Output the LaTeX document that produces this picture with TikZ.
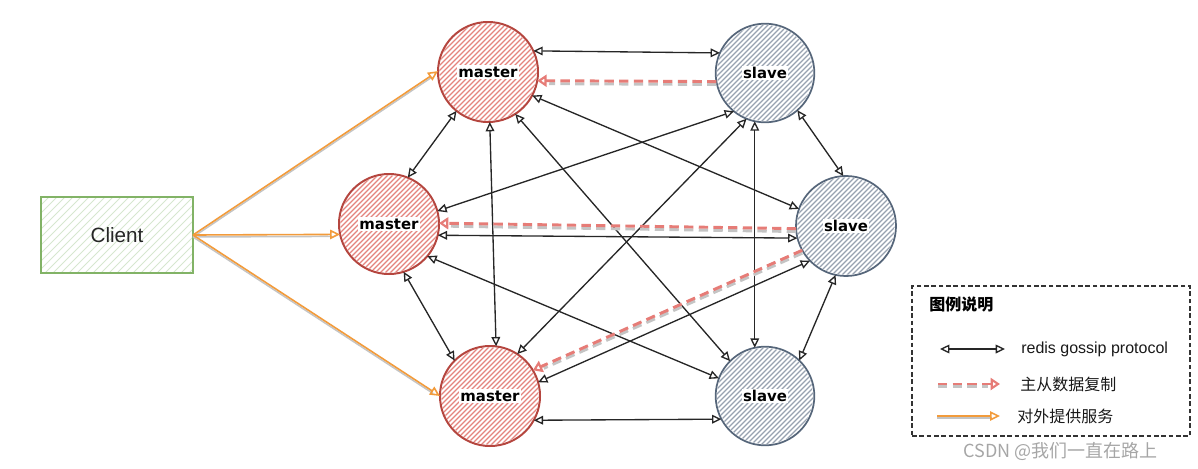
\documentclass[tikz,border=0pt]{standalone}
\usepackage{fontspec}
\setmainfont{Liberation Sans}
\newfontfamily\cjk{Noto Sans CJK SC}
\newfontfamily\lblfont{DejaVu Sans}
\usetikzlibrary{arrows.meta,backgrounds}
\definecolor{mstroke}{HTML}{B5463F}
\definecolor{mhatch}{HTML}{E4847E}
\definecolor{sstroke}{HTML}{56667A}
\definecolor{shatch}{HTML}{98A2B0}
\definecolor{cstroke}{HTML}{82B366}
\definecolor{chatch}{HTML}{D6E7CF}
\definecolor{replred}{HTML}{E67C77}
\definecolor{shadowg}{HTML}{C4C4C4}
\definecolor{orng}{HTML}{F29B3B}
\definecolor{wmgray}{HTML}{A6A6A6}
\tikzset{
  master/.style={circle, draw=mstroke, line width=1.5pt, minimum size=75pt, inner sep=0pt, outer sep=0pt,
    font=\lblfont\bfseries\fontsize{11.2}{13}\selectfont},
  slave/.style={circle, draw=sstroke, line width=1.3pt, minimum size=74pt, inner sep=0pt, outer sep=0pt,
    font=\lblfont\bfseries\fontsize{11.2}{13}\selectfont},
  clientbox/.style={rectangle, draw=cstroke, line width=0.8pt, minimum width=114pt, minimum height=57pt,
    inner sep=0pt, outer sep=0pt, font=\fontsize{15.5}{18}\selectfont, text=black!85},
  legendbox/.style={rectangle, draw=black!80, line width=1pt, dash pattern=on 3.5pt off 2pt,
    minimum width=208.5pt, minimum height=112.5pt, inner sep=0pt},
  gossip/.style={draw=black!85, line width=1pt,
    {Triangle[open,length=7pt,width=6.5pt]}-{Triangle[open,length=7pt,width=6.5pt]}},
  replarrow/.style={draw=replred, line width=2.2pt, dash pattern=on 7pt off 4pt,
    -{Triangle[open,length=7pt,width=9pt,line width=1.6pt]}},
  replshadow/.style={draw=shadowg, line width=2.2pt, dash pattern=on 7pt off 4pt, shorten >=9pt},
  serve/.style={draw=orng, line width=1.2pt, -{Triangle[open,length=7.5pt,width=7pt]}},
  serveshadow/.style={draw=shadowg, line width=1.1pt, shorten >=6pt},
  legtext/.style={anchor=west, inner sep=0pt, font=\fontsize{12}{14}\selectfont, text=black!90},
}
\newcommand\hatchcirc[4]{%
  \begin{scope}[on background layer]
    \begin{scope}
      \clip (#1.center) circle[radius=#2];
      \begin{scope}[shift={(#1.center)}]
        \foreach \k in {-80,-75,...,80} \draw[#3, line width=0.85pt] (\k-85,85) -- (\k+85,-85);
      \end{scope}
    \end{scope}
  \end{scope}}
\begin{document}
\begin{tikzpicture}[x=0.75pt,y=-0.75pt]
\path[use as bounding box] (0,0) rectangle (1198,468);
\fboxsep=1pt
% nodes
\node[master] (m1) at (488,72) {\colorbox{white}{master}};
\node[master] (m2) at (389,224) {\colorbox{white}{master}};
\node[master] (m3) at (490,396) {\colorbox{white}{master}};
\node[slave] (s1) at (765,73) {\colorbox{white}{slave}};
\node[slave, minimum size=75pt] (s2) at (846,226) {\colorbox{white}{slave}};
\node[slave] (s3) at (765,396) {\colorbox{white}{slave}};
\node[clientbox] (client) at (117,235) {Client};
\hatchcirc{m1}{36.5pt}{mhatch}{}
\hatchcirc{m2}{36.5pt}{mhatch}{}
\hatchcirc{m3}{36.5pt}{mhatch}{}
\hatchcirc{s1}{36pt}{shatch}{}
\hatchcirc{s2}{36.5pt}{shatch}{}
\hatchcirc{s3}{36pt}{shatch}{}
\begin{scope}[on background layer]
  \begin{scope}
    \clip (client.south west) rectangle (client.north east);
    \begin{scope}[shift={(client.center)}]
      \foreach \k in {-130,-122,...,130} \draw[chatch, line width=0.7pt] (\k-130,130) -- (\k+130,-130);
    \end{scope}
  \end{scope}
\end{scope}
% gossip connectors
\draw[gossip] (m1.25) -- (s1.156);
\draw[gossip] (m1.-28) -- (s2.160);
\draw[gossip] (m1.-57) -- (s3.135);
\draw[gossip] (m1.-129) -- (m2.68);
\draw[gossip] (m1.-88) -- (m3.83);
\draw[gossip] (m2.15) -- (s1.231);
\draw[gossip] (m2.-13) -- (s2.194);
\draw[gossip] (m2.-40) -- (s3.159);
\draw[gossip] (m2.-73) -- (m3.135);
\draw[gossip] (m3.57) -- (s1.248);
\draw[gossip] (m3.16) -- (s2.224);
\draw[gossip] (m3.-29) -- (s3.208);
\draw[gossip] (s1.-49) -- (s2.93);
\draw[gossip] (s1.-102) -- (s3.102);
\draw[gossip] (s2.-102) -- (s3.46);
% replication
\draw[replshadow] ([yshift=-2.2pt]s1.190) -- ([yshift=-2.2pt]m1.-10);
\draw[replarrow] (s1.190) -- (m1.-10);
\draw[replshadow] ([yshift=-2.2pt]s2.183) -- ([yshift=-2.2pt]m2.1);
\draw[replarrow] (s2.183) -- (m2.1);
\draw[replshadow] ([yshift=-2.2pt]s2.209) -- ([yshift=-2.2pt]m3.31);
\draw[replarrow] (s2.209) -- (m3.31);
% serving
\draw[serveshadow] ([yshift=-1.5pt]client.east) -- ([yshift=-1.5pt]m1.179);
\draw[serve] (client.east) -- (m1.179);
\draw[serveshadow] ([yshift=-1.5pt]client.east) -- ([yshift=-1.5pt]m2.192);
\draw[serve] (client.east) -- (m2.192);
\draw[serveshadow] ([yshift=-1.5pt]client.east) -- ([yshift=-1.5pt]m3.180);
\draw[serve] (client.east) -- (m3.180);
% legend
\node[legendbox] (legend) at (1051,361) {};
\node[anchor=west, inner sep=0pt, font=\cjk\bfseries\fontsize{12}{14}\selectfont] (legtitle) at (929,304) {图例说明};
\coordinate (g1a) at (940,349); \coordinate (g1b) at (1005,349);
\coordinate (g2a) at (938,384); \coordinate (g2b) at (1000,384);
\coordinate (g3a) at (937,416); \coordinate (g3b) at (1000,416);
\draw[gossip] (g1a) -- (g1b);
\draw[replshadow] ([yshift=-2.2pt]g2a) -- ([yshift=-2.2pt]g2b);
\draw[replarrow] (g2a) -- (g2b);
\draw[serveshadow] ([yshift=-1.5pt]g3a) -- ([yshift=-1.5pt]g3b);
\draw[serve] (g3a) -- (g3b);
\node[legtext] (l1) at (1021,349) {redis gossip protocol};
\node[legtext, font=\cjk\fontsize{12}{14}\selectfont] (l2) at (1020,384) {主从数据复制};
\node[legtext, font=\cjk\fontsize{12}{14}\selectfont] (l3) at (1017,416) {对外提供服务};
% watermark
\node[anchor=west, inner sep=0pt, text=wmgray, font=\cjk\fontsize{13.5}{15}\selectfont] (wm) at (963,451) {CSDN @我们一直在路上};
\end{tikzpicture}
\end{document}
